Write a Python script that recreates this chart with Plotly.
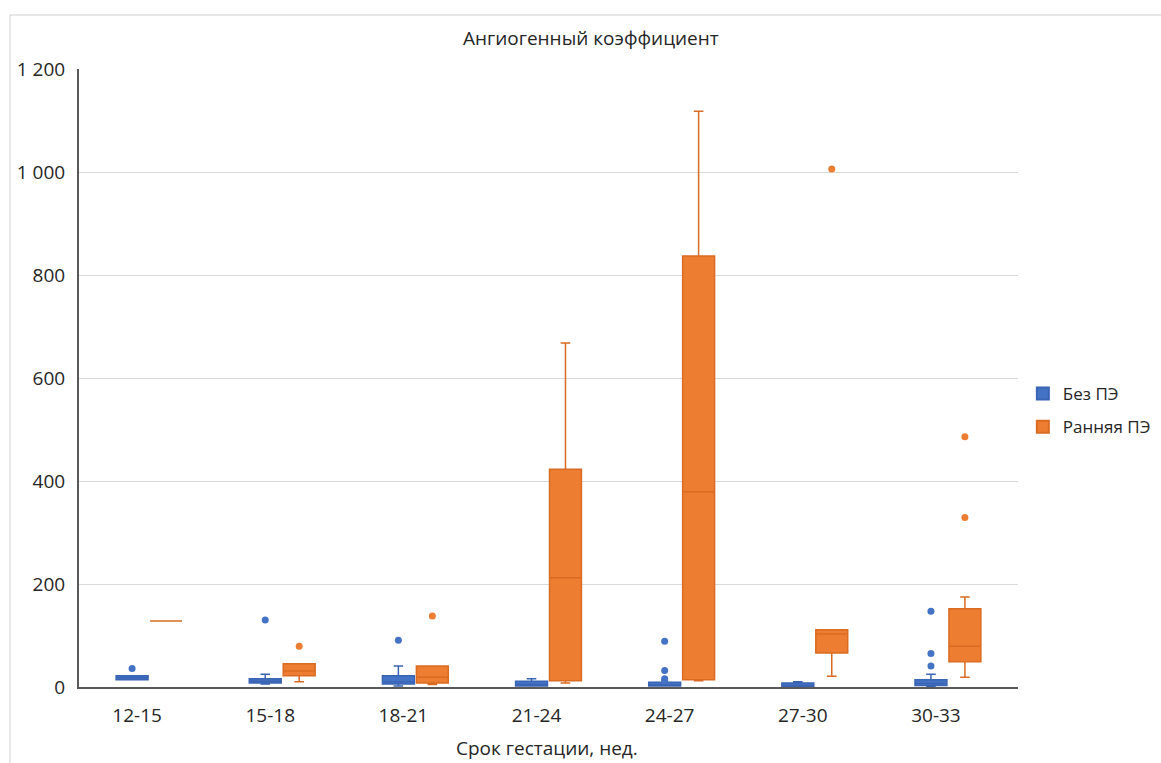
import plotly.graph_objects as go

# Gestation windows (weeks)
periods = ["12-15", "15-18", "18-21", "21-24", "24-27", "27-30", "30-33"]

# Group without preeclampsia: box statistics per window
no_pe_q1 = [14, 8, 6, 2, 2, 1, 3]
no_pe_median = [18, 11, 10, 5, 4, 3, 7]
no_pe_q3 = [22, 16, 22, 11, 9, 8, 14]
no_pe_low = [14, 6, 2, 2, 2, 1, 1]
no_pe_high = [22, 25, 41, 16, 9, 10, 25]
no_pe_outliers = [[36], [130], [91], [], [89, 32, 16, 12], [], [147, 65, 41]]

# Group with early preeclampsia (12-15: a single observation of 128)
early_pe_q1 = [128, 22, 8, 12, 14, 66, 49]
early_pe_median = [128, 31, 19, 212, 379, 103, 79]
early_pe_q3 = [128, 45, 41, 423, 837, 111, 152]
early_pe_low = [128, 10, 5, 8, 12, 21, 19]
early_pe_high = [128, 45, 41, 668, 1118, 111, 175]
early_pe_points = [[128], [79], [138], [], [], [1006], [486, 329]]

BLUE = "#4472C4"
BLUE_LINE = "#3A64B4"
ORANGE = "#ED7D31"
ORANGE_LINE = "#DA6B22"

fig = go.Figure()

fig.add_trace(go.Box(
    name="Без ПЭ",
    legendgroup="no_pe",
    x=periods,
    q1=no_pe_q1, median=no_pe_median, q3=no_pe_q3,
    lowerfence=no_pe_low, upperfence=no_pe_high,
    y=no_pe_outliers,
    boxpoints="outliers",
    fillcolor=BLUE,
    line=dict(color=BLUE_LINE, width=1.5),
    marker=dict(color=BLUE, size=7),
    whiskerwidth=0.3,
))

fig.add_trace(go.Box(
    name="Ранняя ПЭ",
    legendgroup="early_pe",
    x=periods,
    q1=early_pe_q1, median=early_pe_median, q3=early_pe_q3,
    lowerfence=early_pe_low, upperfence=early_pe_high,
    y=early_pe_points,
    boxpoints="outliers",
    fillcolor=ORANGE,
    line=dict(color=ORANGE_LINE, width=1.5),
    marker=dict(color=ORANGE, size=7),
    whiskerwidth=0.3,
))

FONT = "Open Sans, Lato, sans-serif"
TEXT = "#262626"

fig.update_layout(
    width=1161, height=763,
    margin=dict(l=79, r=143, t=69, b=76, autoexpand=False),
    paper_bgcolor="white",
    plot_bgcolor="white",
    boxmode="group",
    boxgap=0.49,
    boxgroupgap=0.06,
    separators=", ",
    font=dict(family=FONT, size=19, color=TEXT),
    showlegend=True,
    legend=dict(
        xref="container", yref="container",
        x=0.881, y=0.462, xanchor="left", yanchor="middle",
        font=dict(size=17, color=TEXT),
        itemsizing="constant",
        tracegroupgap=8,
    ),
    xaxis=dict(
        type="category",
        showgrid=False,
        showline=True, linecolor="#595959", linewidth=2,
        ticks="", ticklabelshift=-12, ticklabelstandoff=10,
        tickfont=dict(size=19, color=TEXT),
    ),
    yaxis=dict(
        range=[0, 1200],
        tickvals=[0, 200, 400, 600, 800, 1000, 1200],
        tickformat=",d",
        showgrid=True, gridcolor="#D9D9D9", gridwidth=1,
        showline=True, linecolor="#595959", linewidth=2,
        zeroline=False,
        ticks="", ticklabelstandoff=8,
        tickfont=dict(size=19, color=TEXT),
    ),
    annotations=[
        dict(text="Ангиогенный коэффициент", xref="paper", yref="paper",
             x=0.545, y=1.050, xanchor="center", yanchor="middle",
             showarrow=False, font=dict(size=19, color=TEXT)),
        dict(text="Срок гестации, нед.", xref="paper", yref="paper",
             x=0.498, y=-0.099, xanchor="center", yanchor="middle",
             showarrow=False, font=dict(size=19, color=TEXT)),
    ],
    shapes=[
        dict(type="line", xref="paper", yref="paper",
             x0=-0.0735, x1=-0.0735, y0=1.0874, y1=-0.2,
             line=dict(color="#D0D0D0", width=1)),
        dict(type="line", xref="paper", yref="paper",
             x0=-0.0735, x1=1.2, y0=1.0874, y1=1.0874,
             line=dict(color="#D0D0D0", width=1)),
    ],
)

fig.write_html("out.html")
